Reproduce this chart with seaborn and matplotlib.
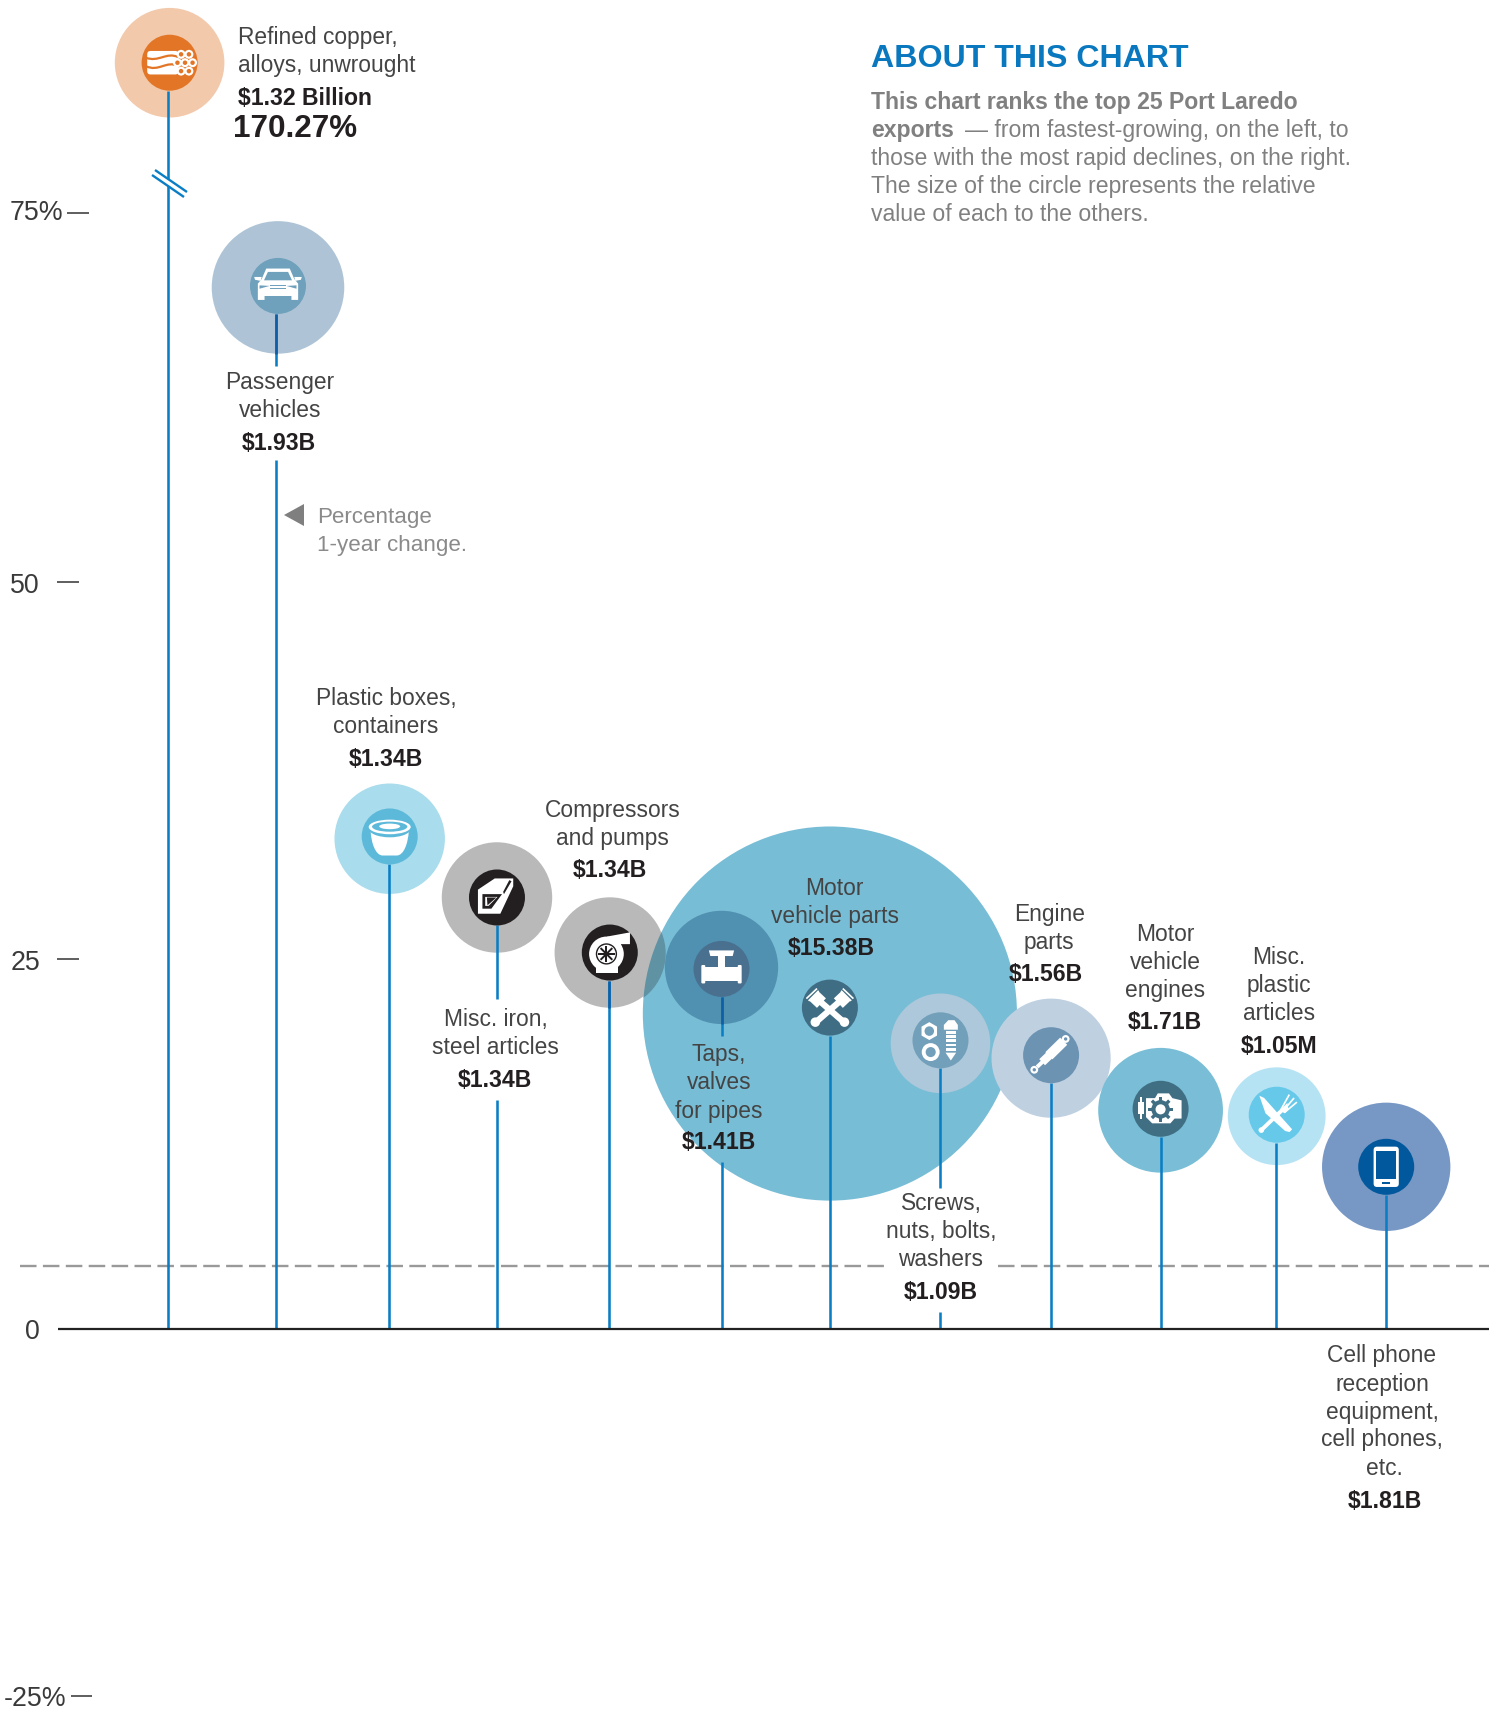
import numpy as np
import pandas as pd
import matplotlib
matplotlib.use("Agg")
import matplotlib.pyplot as plt
import seaborn as sns
from matplotlib.patches import Polygon, Circle, Ellipse, Rectangle, FancyBboxPatch, PathPatch, RegularPolygon
from matplotlib.path import Path
from matplotlib.transforms import Affine2D, IdentityTransform, ScaledTranslation, blended_transform_factory

# ---------- data ----------
names = ["Refined copper", "Passenger vehicles", "Plastic boxes", "Misc. iron", "Compressors",
         "Taps", "Motor vehicle parts", "Screws", "Engine parts", "Motor vehicle engines",
         "Misc. plastic", "Cell phones"]
rank = [1.01, 1.99, 3.0, 3.97, 4.99, 6.0, 6.98, 7.98, 8.98, 9.97, 11.02, 12.01]
# copper's real change is 170.27 %; it sits above the axis break at about 85 on the drawn scale
change = [85.1, 70.0, 32.95, 29.0, 25.3, 24.3, 21.2, 19.2, 18.2, 14.7, 14.3, 10.9]
hub_change = [85.1, 70.1, 33.1, 29.0, 25.3, 24.2, 21.6, 19.4, 18.4, 14.8, 14.4, 10.9]
value_b = [1.32, 1.93, 1.34, 1.34, 1.34, 1.41, 15.38, 1.09, 1.56, 1.71, 1.05, 1.81]
outer_colors = ["#F3C9AC", "#AEC4D6", "#A9DCEC", "#B9B9B9", "#B9B9B9", "#5090B1",
                "#78BDD6", "#ACC8DA", "#BFD0E1", "#79BED6", "#B6E3F4", "#7797C5"]
hub_colors = ["#E27626", "#6FA0BC", "#5DB9D9", "#231F20", "#231F20", "#4A708F",
              "#3F6D84", "#729FB9", "#6D93B3", "#406F84", "#66C9EA", "#01589C"]
y_ticks = [-25, 0, 25, 50, 75]
y_labels = ["-25%", "0", "25", "50", "75%"]
average_change = 4.25

# ---------- canvas ----------
W, H = 1489, 1713
DPI = 100
PX_PER_PCT = 14.88
ZERO_PY = 1329
PX_PER_RANK = 110.6
RANK1_PX = 168.5

sns.set_style("white")
plt.rcParams["font.family"] = ["Liberation Sans", "DejaVu Sans"]
fig = plt.figure(figsize=(W / DPI, H / DPI), dpi=DPI, facecolor="white")
ax = fig.add_axes([0, 0, 1, 1])
ax.set_xlim((0 - RANK1_PX) / PX_PER_RANK + 1, (W - RANK1_PX) / PX_PER_RANK + 1)
ax.set_ylim((ZERO_PY - H) / PX_PER_PCT, ZERO_PY / PX_PER_PCT)
sns.despine(ax=ax, left=True, bottom=True)
ax.set_xticks([])
ax.set_facecolor("none")

df = pd.DataFrame({"name": names, "rank": rank, "change": change, "hub": hub_change, "value": value_b})
df["layer"] = (df["value"] < df["value"].max()).astype(int)
df_sorted = df.sort_values("layer", kind="stable")

K = (2 * 47.7 * 72 / DPI) ** 2     # pt^2 per $B -> circle area proportional to value
vmin, vmax = min(value_b), max(value_b)
sns.scatterplot(data=df_sorted, x="rank", y="change", hue="name", size="value",
                palette=dict(zip(names, outer_colors)), sizes=(K * vmin, K * vmax),
                size_norm=(vmin, vmax), linewidth=0, edgecolor="none", legend=False,
                alpha=1, zorder=2, ax=ax)

# overlap of the compressors circle with the big motor-parts circle
comp = df[df["name"] == "Compressors"]
sns.scatterplot(data=comp, x="rank", y="change", color="#5F92A3", size="value",
                sizes=(K * 1.34, K * 1.34), size_norm=(1, 2), linewidth=0, legend=False, zorder=2.5, ax=ax)
motor = df[df["value"] == vmax].iloc[0]
centre = ax.transData.transform((motor["rank"], motor["change"]))
ax.collections[-1].set_clip_path(Path.circle(tuple(centre), 47.7 * np.sqrt(vmax)), IdentityTransform())

# hubs
HUB_R = 28
sns.scatterplot(data=df, x="rank", y="hub", hue="name", palette=dict(zip(names, hub_colors)),
                s=(2 * HUB_R * 72 / DPI) ** 2, linewidth=0, edgecolor="none", legend=False, zorder=4, ax=ax)
ax.set_xlabel("")
ax.set_ylabel("")

# stems with gaps left for labels (gaps given in picture pixels)
def py2v(py):
    return (ZERO_PY - py) / PX_PER_PCT

STEM = "#0A7EC5"
STEM_DARK = "#0F5FA6"
gaps = {1: [(365.7, 460)], 3: [(999, 1100)], 5: [(1035.7, 1162)], 7: [(1188, 1312)]}
dark_stems = {1, 4, 5}
stem_nudge_px = [-2, -2, -1, 0, -1, 0, 0, 0, 0, 0, -1, 0]
for i, (r, hub, ch, v) in enumerate(zip(rank, hub_change, change, value_b)):
    sx = r + stem_nudge_px[i] / PX_PER_RANK
    top = hub - HUB_R / PX_PER_PCT
    segs = []
    cur = top
    for g0, g1 in gaps.get(i, []):
        segs.append((cur, py2v(g0)))
        cur = py2v(g1)
    segs.append((cur, 0))
    for a, b in segs:
        ax.vlines(sx, b, a, color=STEM, lw=1.85, zorder=3, capstyle="butt")
    if i in dark_stems:
        outer_bottom = ch - 47.7 * np.sqrt(v) / PX_PER_PCT
        ax.vlines(sx, outer_bottom, top, color=STEM_DARK, lw=1.85, zorder=3.1, capstyle="butt")

# reference lines
xb = blended_transform_factory(IdentityTransform(), ax.transData)
ax.plot([58, W], [0, 0], transform=xb, color="#222222", lw=1.6, zorder=3.5, solid_capstyle="butt")
for x0, x1 in [(20, 888), (998, W)]:
    ax.plot([x0, x1], [average_change] * 2, transform=xb, color="#999999", lw=1.7,
            dashes=(7, 2.7), zorder=1)

# y ticks: the hand-set tick labels of the original sit a few pixels off a strictly linear scale
ax.set_yticks(y_ticks, y_labels)
ax.tick_params(axis="y", length=0, labelsize=19.3, labelcolor="#3A3A3A")
for tick, pad, up_px in zip(ax.yaxis.get_major_ticks(), [-47.5, -28.8, -28.8, -28.8, -45.4], [5, 0, -3, 2, 3]):
    tick.set_pad(pad)
    lab = tick.label1
    lab.set_transform(lab.get_transform() + ScaledTranslation(0, up_px / DPI, fig.dpi_scale_trans))

# ---------- icons (drawn in hub-radius units) ----------
def frame(i):
    cx, cy = ax.transData.transform((rank[i], hub_change[i]))
    return Affine2D().scale(HUB_R).translate(cx, cy)

def add(p, t):
    p.set_transform(t)
    p.set_zorder(5)
    p.set_linewidth(0)
    ax.add_artist(p)
    return p

def poly(t, pts, c="white"):
    add(Polygon(pts, closed=True, facecolor=c), t)

def circ(t, xy, r, c="white"):
    add(Circle(xy, r, facecolor=c), t)

def rect(t, x0, y0, x1, y1, c="white"):
    add(Rectangle((x0, y0), x1 - x0, y1 - y0, facecolor=c), t)

def rrect(t, x0, y0, x1, y1, rad, c="white"):
    add(FancyBboxPatch((x0 + rad, y0 + rad), x1 - x0 - 2 * rad, y1 - y0 - 2 * rad,
                       boxstyle=f"round,pad={rad}", facecolor=c), t)

def bar(t, p, q, w, c="white"):
    p, q = np.array(p, float), np.array(q, float)
    d = q - p
    n = np.array([-d[1], d[0]]) / np.hypot(*d) * w / 2
    poly(t, [p + n, q + n, q - n, p - n], c)

def ring(t, xy, r, hole, c, c2="white"):
    circ(t, xy, r, c2)
    circ(t, xy, hole, c)

def wave(t, pts, c, lw):
    codes = [Path.MOVETO] + [Path.CURVE4] * (len(pts) - 1)
    ax.add_artist(PathPatch(Path(pts, codes), facecolor="none", edgecolor=c, lw=lw, transform=t, zorder=5))

# copper
t, c = frame(0), hub_colors[0]
rrect(t, -0.8, -0.42, 0.32, 0.42, 0.12)
wave(t, [(-0.85, 0.18), (-0.4, 0.0), (-0.1, 0.4), (0.3, 0.2)], c, 1.6)
wave(t, [(-0.85, -0.12), (-0.4, -0.35), (-0.1, 0.1), (0.3, -0.12)], c, 1.6)
for xy in [(0.55, 0), (0.28, 0), (0.82, 0), (0.41, 0.3), (0.69, 0.3), (0.41, -0.3), (0.69, -0.3)]:
    ring(t, xy, 0.16, 0.08, c)
# car
t, c = frame(1), hub_colors[1]
poly(t, [(-0.42, 0.62), (0.42, 0.62), (0.58, 0.25), (0.72, 0.08), (0.72, -0.5), (0.48, -0.5),
         (0.48, -0.36), (-0.48, -0.36), (-0.48, -0.5), (-0.72, -0.5), (-0.72, 0.08), (-0.58, 0.25)])
poly(t, [(-0.36, 0.5), (0.36, 0.5), (0.5, 0.2), (-0.5, 0.2)], c)
rect(t, -0.28, -0.12, 0.28, -0.08, c)
rect(t, -0.28, -0.02, 0.28, 0.02, c)
poly(t, [(-0.66, 0.02), (-0.3, -0.0), (-0.66, -0.1)], c)
poly(t, [(0.66, 0.02), (0.3, -0.0), (0.66, -0.1)], c)
poly(t, [(-0.85, 0.32), (-0.58, 0.32), (-0.62, 0.18), (-0.82, 0.22)])
poly(t, [(0.85, 0.32), (0.58, 0.32), (0.62, 0.18), (0.82, 0.22)])
# bowl
t, c = frame(2), hub_colors[2]
add(PathPatch(Path([(-0.68, 0.2), (-0.66, -0.25), (-0.5, -0.68), (-0.25, -0.68), (0.25, -0.68), (0.5, -0.68), (0.66, -0.25), (0.68, 0.2), (-0.68, 0.2)],
                   [Path.MOVETO, Path.CURVE4, Path.CURVE4, Path.CURVE4, Path.LINETO, Path.CURVE4, Path.CURVE4, Path.CURVE4, Path.CLOSEPOLY]),
              facecolor="white"), t)
add(Ellipse((0, 0.28), 1.5, 0.62, facecolor=c), t)
add(Ellipse((0, 0.34), 1.5, 0.52, facecolor="white"), t)
add(Ellipse((0, 0.35), 1.26, 0.36, facecolor=c), t)
add(Ellipse((0, 0.36), 0.75, 0.2, facecolor="white"), t)
# iron articles
t, c = frame(3), hub_colors[3]
poly(t, [(-0.68, 0.28), (-0.08, 0.68), (0.58, 0.68), (0.58, 0.4), (0.12, -0.58), (-0.68, -0.58)])
poly(t, [(-0.52, 0.12), (0.18, 0.12), (-0.2, -0.4), (-0.52, -0.4)], c)
poly(t, [(-0.42, 0.02), (0.02, 0.02), (-0.3, -0.3), (-0.42, -0.3)], "white")
poly(t, [(-0.36, 0.0), (-0.02, 0.0), (-0.34, -0.28)], c)
poly(t, [(0.25, 0.12), (0.52, 0.58), (0.44, 0.62), (0.22, 0.2)], c)
# turbo
t, c = frame(4), hub_colors[4]
circ(t, (-0.12, -0.05), 0.62)
poly(t, [(-0.1, 0.57), (0.72, 0.72), (0.72, 0.3), (0.4, 0.3), (0.4, 0.1)])
rect(t, -0.5, -0.72, 0.3, -0.5)
ring(t, (-0.12, -0.05), 0.38, 0.33, "white", c)
for a, b in [((-0.42, -0.05), (0.18, -0.05)), ((-0.12, -0.35), (-0.12, 0.25)),
             ((-0.33, -0.26), (0.09, 0.16)), ((-0.33, 0.16), (0.09, -0.26))]:
    bar(t, a, b, 0.07, c)
# tap
t, c = frame(5), hub_colors[5]
rrect(t, -0.72, -0.52, -0.58, 0.14, 0.04)
rrect(t, 0.58, -0.52, 0.72, 0.14, 0.04)
rect(t, -0.6, -0.42, 0.6, 0.06)
rect(t, -0.13, 0.05, 0.13, 0.45)
poly(t, [(-0.45, 0.66), (0.45, 0.66), (0.4, 0.46), (-0.4, 0.46)])
# pistons
t, c = frame(6), hub_colors[6]
for s in (1, -1):
    bar(t, (s * -0.42, 0.28), (s * 0.5, -0.52), 0.22)
    circ(t, (s * 0.52, -0.52), 0.17)
    bar(t, (s * -0.28, 0.46), (s * -0.6, 0.12), 0.38)
    bar(t, (s * -0.4, 0.6), (s * -0.76, 0.24), 0.06)
    bar(t, (s * -0.46, 0.68), (s * -0.84, 0.32), 0.06)
# screws
t, c = frame(7), hub_colors[7]
add(RegularPolygon((-0.4, 0.33), 6, radius=0.32, facecolor="white"), t)
circ(t, (-0.4, 0.33), 0.17, c)
ring(t, (-0.35, -0.42), 0.32, 0.18, c)
poly(t, [(0.12, 0.55), (0.28, 0.72), (0.5, 0.72), (0.62, 0.55), (0.62, 0.38), (0.12, 0.38)])
for y in (0.28, 0.13, -0.02, -0.17, -0.32):
    rect(t, 0.18, y - 0.05, 0.56, y + 0.05)
poly(t, [(0.18, -0.44), (0.56, -0.44), (0.37, -0.72)])
# shock absorber
t, c = frame(8), hub_colors[8]
bar(t, (-0.5, -0.42), (0.0, 0.05), 0.14)
bar(t, (-0.32, -0.25), (0.05, 0.1), 0.3)
bar(t, (-0.08, -0.02), (0.45, 0.5), 0.36)
ring(t, (-0.6, -0.52), 0.14, 0.06, c)
ring(t, (0.52, 0.58), 0.14, 0.06, c)
# engine
t, c = frame(9), hub_colors[9]
poly(t, [(-0.52, 0.38), (-0.2, 0.38), (-0.1, 0.55), (0.3, 0.55), (0.42, 0.38), (0.75, 0.3),
         (0.75, -0.35), (0.5, -0.35), (0.35, -0.52), (-0.3, -0.52), (-0.52, -0.3)])
rect(t, -0.82, -0.2, -0.6, 0.25)
rect(t, -0.75, 0.25, -0.68, 0.42)
rect(t, -0.75, -0.37, -0.68, -0.2)
circ(t, (0.0, -0.02), 0.33, c)
for a in np.deg2rad(np.arange(0, 180, 45)):
    d = 0.44 * np.array([np.cos(a), np.sin(a)])
    bar(t, -d + (0, -0.02), d + (0, -0.02), 0.12, c)
circ(t, (0.0, -0.02), 0.18)
# fork and knife
t, c = frame(10), hub_colors[10]
poly(t, [(-0.62, 0.68), (-0.45, 0.6), (0.55, -0.52), (0.46, -0.62), (0.3, -0.58), (-0.4, 0.05)])
bar(t, (-0.55, -0.55), (0.25, 0.22), 0.14)
circ(t, (-0.55, -0.55), 0.1)
poly(t, [(0.12, 0.16), (0.38, 0.42), (0.42, 0.2), (0.28, 0.05)])
for a, b in [((0.15, 0.18), (0.45, 0.72)), ((0.22, 0.12), (0.62, 0.6)), ((0.28, 0.08), (0.72, 0.45))]:
    bar(t, a, b, 0.06)
# phone
t, c = frame(11), hub_colors[11]
rrect(t, -0.45, -0.72, 0.45, 0.72, 0.12)
rect(t, -0.35, -0.44, 0.35, 0.58, c)
rect(t, -0.15, -0.62, 0.15, -0.53, c)

# ---------- text overlay in picture pixels ----------
ov = fig.add_axes([0, 0, 1, 1], zorder=10)
ov.set_xlim(0, W)
ov.set_ylim(H, 0)
ov.axis("off")
ov.patch.set_alpha(0)

# short tick dashes, placed where the original has them
for py, x0, x1 in [(212.7, 67, 89), (582.3, 57, 79), (959, 57, 79), (1696, 71, 92)]:
    ov.plot([x0, x1], [py, py], color="#333333", lw=1.1, solid_capstyle="butt")

TXT = "#444444"
BOLD = "#231F20"
FS = 16.4
FSB = 16.6

def line(x, y, s, bold=False, size=None, color=None, ha="center"):
    size = size or (FSB if bold else FS)
    ov.text(x, y + size * 0.46, s, ha=ha, va="baseline", fontsize=size,
            fontweight="bold" if bold else "normal",
            color=color or (BOLD if bold else TXT))

line(238, 36.7, "Refined copper,", ha="left")
line(238, 64, "alloys, unwrought", ha="left")
line(238, 97, "$1.32 Billion", bold=True, ha="left")
line(233, 127, "170.27%", bold=True, size=22.6, ha="left")

labels = [
    (280, ["Passenger", "vehicles"], [381.7, 409], 279, "$1.93B", 442),
    (386, ["Plastic boxes,", "containers"], [697, 725], 386, "$1.34B", 758),
    (495.5, ["Misc. iron,", "steel articles"], [1018, 1046.7], 495, "$1.34B", 1079),
    (612.8, ["Compressors", "and pumps"], [809, 837], 609.7, "$1.34B", 869),
    (718.8, ["Taps,", "valves", "for pipes"], [1053, 1081.7, 1110], 718.5, "$1.41B", 1141.7),
    (834.7, ["Motor", "vehicle parts"], [887, 915.7], 831, "$15.38B", 947.7),
    (941, ["Screws,", "nuts, bolts,", "washers"], [1202, 1230.7, 1258.7], 941, "$1.09B", 1291),
    (1049.3, ["Engine", "parts"], [913, 941.7], 1045.4, "$1.56B", 973.7),
    (1165.4, ["Motor", "vehicle", "engines"], [933, 961, 989.7], 1164.7, "$1.71B", 1021),
    (1279, ["Misc.", "plastic", "articles"], [956.7, 984, 1012], 1278.8, "$1.05M", 1045.7),
    (1382, ["Cell phone", "reception", "equipment,", "cell phones,"], [1354.6, 1383, 1411, 1438.7], 1385, "$1.81B", 1500),
]
for x, ls, ys, bx, b, by in labels:
    for s, y in zip(ls, ys):
        line(x, y, s)
    line(bx, by, b, bold=True)
line(1384, 1467, "etc.")

# axis break marks: white gap between the two slashes
ov.add_patch(Polygon([(152, 175), (155, 170), (187, 192), (184, 197)], closed=True, facecolor="white", edgecolor="none", zorder=3))
for dx, dy in [(0, 0), (3, -5)]:
    ov.plot([152 + dx, 184 + dx], [175 + dy, 197 + dy], color=STEM, lw=1.7, solid_capstyle="butt", zorder=4)

# unit note
ov.add_patch(Polygon([(304, 504), (304, 526), (284, 515)], closed=True, facecolor="#7F7F7F", edgecolor="none"))
line(317, 516, "Percentage", color="#8A8A8A", ha="left", size=16.1)
line(317, 544, "1-year change.", color="#8A8A8A", ha="left", size=16.1)

# about box
ABOUT_X = 871
line(ABOUT_X, 56, "ABOUT THIS CHART", bold=True, size=23.1, color="#0A78BF", ha="left")
GREY = "#808080"
FA = 16.6
line(ABOUT_X, 101, "This chart ranks the top 25 Port Laredo", bold=True, size=FA, color=GREY, ha="left")
line(ABOUT_X, 129, "exports", bold=True, size=FA, color=GREY, ha="left")
line(964.6, 129, "— from fastest-growing, on the left, to", size=FA, color=GREY, ha="left")
line(ABOUT_X, 157, "those with the most rapid declines, on the right.", size=FA, color=GREY, ha="left")
line(ABOUT_X, 185, "The size of the circle represents the relative", size=FA, color=GREY, ha="left")
line(ABOUT_X, 213, "value of each to the others.", size=FA, color=GREY, ha="left")

fig.savefig("out.png", dpi=DPI, facecolor="white")
